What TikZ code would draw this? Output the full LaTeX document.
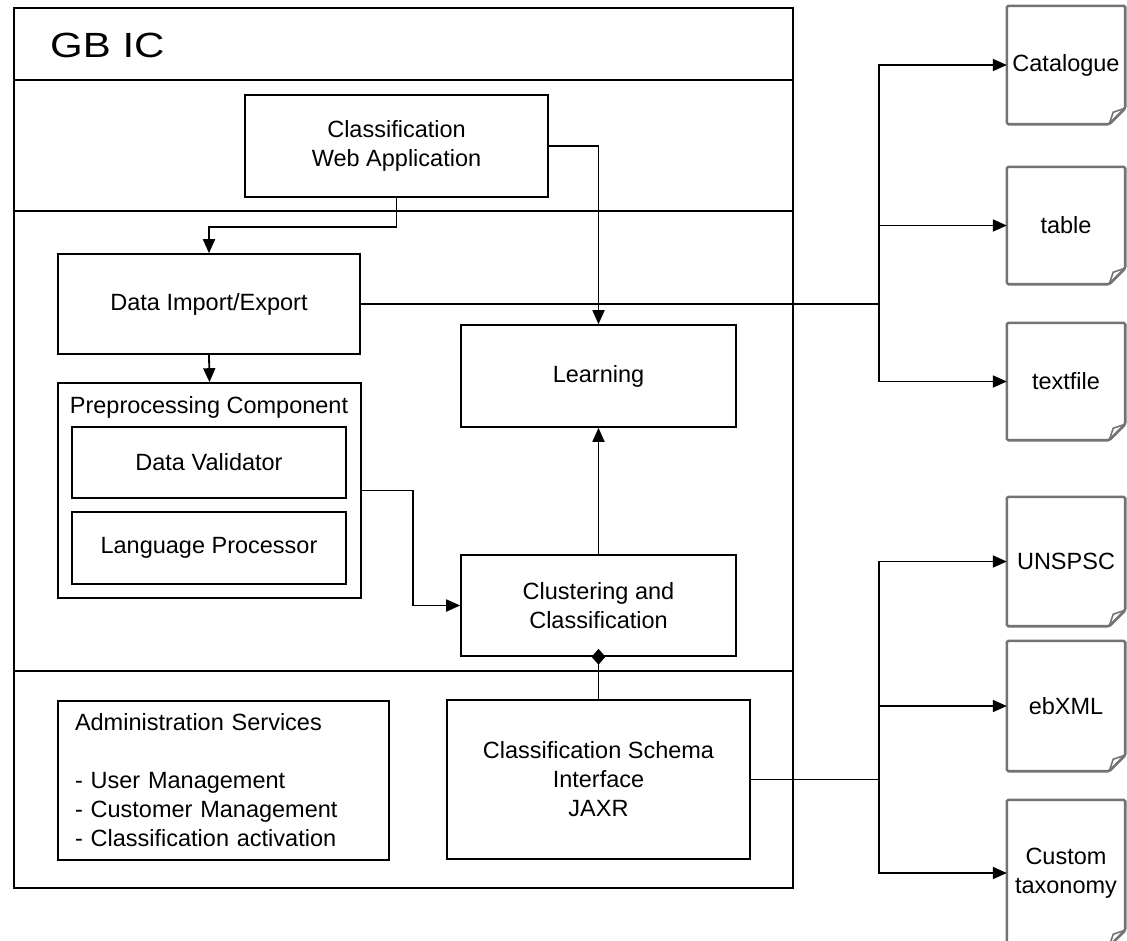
\documentclass[tikz,border=0pt]{standalone}
\usepackage{fontspec}
\setmainfont{Liberation Sans}
\usetikzlibrary{arrows.meta,shapes.geometric}
\tikzset{
  box/.style={draw, line width=1.6pt, rectangle, inner sep=0pt, align=center,
    font=\fontsize{23.5}{29}\selectfont},
  plain/.style={inner sep=0pt, align=center, font=\fontsize{23.5}{29}\selectfont},
  docnode/.style={inner sep=0pt, minimum width=118pt, align=center,
    font=\fontsize{23.5}{29}\selectfont},
  docline/.style={draw=black!55, line width=2.6pt, rounded corners=1.5pt},
  conn/.style={line width=1.8pt},
  arr/.style={conn, -{Triangle[length=14pt,width=12pt]}},
  frameline/.style={line width=1.6pt},
}
\newcommand{\docoutline}[1]{%
  \draw[docline] (#1.north west) -- (#1.north east) -- ([yshift=16pt]#1.south east)
    -- ([xshift=-16pt]#1.south east) -- (#1.south west) -- cycle;
  \draw[docline, rounded corners=0pt, line width=1.6pt] ([xshift=-16pt]#1.south east)
    -- ([xshift=-12pt,yshift=12pt]#1.south east) -- ([yshift=16pt]#1.south east);
}
\begin{document}
\begin{tikzpicture}[x=1pt,y=-1pt]
\useasboundingbox (0,0) rectangle (1127,940);
\clip (0,0) rectangle (1127,940);
\fill[white] (0,0) rectangle (1127,940);

% outer frame and lanes
\draw[frameline] (14,8) rectangle (793,888);
\coordinate (l1a) at (14,80);  \coordinate (l1b) at (793,80);
\coordinate (l2a) at (14,211); \coordinate (l2b) at (793,211);
\coordinate (l3a) at (14,671); \coordinate (l3b) at (793,671);
\draw[frameline] (l1a) -- (l1b);
\draw[frameline] (l2a) -- (l2b);
\draw[frameline] (l3a) -- (l3b);
\node[anchor=base west, inner sep=0pt, font=\fontsize{35}{42}\selectfont] (title) at (50,57) {\scalebox{1.2}[1]{GB IC}};

% boxes
\node[box, minimum width=303pt, minimum height=102pt] (web) at (396.5,146) {Classification\\Web Application};
\node[box, minimum width=302pt, minimum height=100pt] (di) at (209,304) {Data Import/Export};
\node[box, minimum width=275pt, minimum height=102pt] (learn) at (598.5,376) {Learning};
\node[box, minimum width=303pt, minimum height=215pt] (pre) at (209.5,490.5) {};
\node[plain] (prelabel) at (209,407) {Preprocessing Component};
\node[box, minimum width=274pt, minimum height=71pt] (val) at (209,462.5) {Data Validator};
\node[box, minimum width=274pt, minimum height=72pt] (lang) at (209,548) {Language Processor};
\node[box, minimum width=275pt, minimum height=101pt] (clus) at (598.5,605.5) {Clustering and\\Classification};
\node[box, minimum width=331pt, minimum height=159pt, text width=297pt, align=left] (admin) at (223.5,780.5)
  {Administration Services\\[29pt]- User Management\\- Customer Management\\- Classification activation};
\node[box, minimum width=303pt, minimum height=159pt] (schema) at (598.5,779.5) {Classification Schema\\Interface\\JAXR};

% documents
\node[docnode, minimum height=118pt] (cat) at (1066,65) {Catalogue};
\node[docnode, minimum height=117pt] (tab) at (1066,225.5) {table};
\node[docnode, minimum height=117pt] (txt) at (1066,381.5) {textfile};
\node[docnode, minimum height=129pt] (uns) at (1066,561.5) {UNSPSC};
\node[docnode, minimum height=130pt] (ebx) at (1066,706) {ebXML};
\node[docnode, minimum height=146pt] (cus) at (1066,873) {Custom\\taxonomy};
\docoutline{cat}
\docoutline{tab}
\docoutline{txt}
\docoutline{uns}
\docoutline{ebx}
\docoutline{cus}

% connectors
\draw[arr] (web.south) -- ++(0,29) -| (di.north);
\draw[arr] (web.east) -| (learn.north);
\draw[arr] (di.south) -- (pre.north);
\draw[arr] (pre.east) -- ++(51,0) |- (clus.west);
\draw[arr] (clus.north) -- (learn.south);
\draw[conn] (schema.north) -- (clus.south);
\node[diamond, fill=black, inner sep=0pt, minimum width=14pt, minimum height=16pt] (dia) at (clus.south) {};

\coordinate (trunkA) at (879,304);
\draw[conn] (di.east) -- (trunkA);
\draw[arr] (trunkA) |- (cat.west);
\draw[arr] (trunkA) |- (tab.west);
\draw[arr] (trunkA) |- (txt.west);

\coordinate (trunkB) at (879,779.5);
\draw[conn] (schema.east) -- (trunkB);
\draw[arr] (trunkB) |- (uns.west);
\draw[arr] (trunkB) |- (ebx.west);
\draw[arr] (trunkB) |- (cus.west);
\end{tikzpicture}
\end{document}
